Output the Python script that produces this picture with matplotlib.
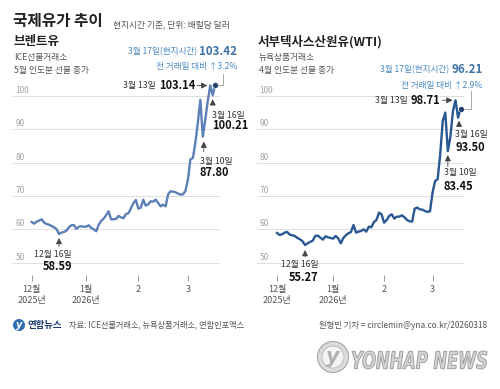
import matplotlib
matplotlib.use('Agg')
import matplotlib.pyplot as plt
import matplotlib.patches as mpatches
from matplotlib.textpath import TextPath
from matplotlib.font_manager import FontProperties
from matplotlib.transforms import Affine2D, offset_copy
import numpy as np
import pandas as pd

plt.rcParams['font.family'] = ['Noto Sans CJK KR', 'DejaVu Sans']

W, H, DPI = 500, 389, 100

# ── 데이터 (거래일 종가, 2025-12-01 ~ 2026-03-17) ──
brent_values = [
    62.2, 61.7, 62.3, 62.6, 63.0, 62.0, 61.6, 61.4, 61.0, 60.6,
    60.1, 58.59, 59.0, 59.2, 59.6, 60.6, 61.2, 61.3, 60.1, 60.8,
    60.9, 60.8, 60.8, 61.2, 60.4, 60.0, 59.4, 61.3, 62.5, 63.2,
    64.2, 65.4, 63.0, 63.0, 63.1, 64.0, 63.6, 63.3, 64.6, 64.8,
    66.3, 67.8, 68.8, 66.2, 66.5, 68.9, 67.1, 67.5, 68.4, 68.3,
    68.9, 67.9, 66.9, 67.4, 66.9, 70.5, 71.4, 71.3, 71.1, 70.7,
    70.4, 70.5, 71.5, 75.0, 81.0, 81.4, 86.0, 92.0, 98.8, 87.80,
    93.0, 98.5, 103.14, 100.21, 103.42,
]
wti_values = [
    58.9, 58.3, 58.5, 59.0, 59.2, 58.4, 58.2, 58.0, 57.4, 57.0,
    56.4, 55.27, 55.8, 56.2, 56.6, 58.0, 58.1, 57.5, 56.9, 57.9,
    57.6, 57.4, 57.2, 58.0, 57.3, 55.8, 57.4, 58.2, 58.8, 59.2,
    61.3, 59.0, 59.3, 59.5, 60.0, 59.3, 60.8, 60.6, 62.2, 62.8,
    65.0, 64.5, 62.0, 62.8, 64.0, 64.5, 63.2, 63.8, 63.8, 64.2,
    63.6, 62.8, 62.4, 62.3, 66.2, 66.5, 66.0, 65.9, 65.5, 65.2,
    65.4, 71.0, 74.5, 75.0, 82.5, 92.5, 95.0, 83.45, 87.8, 95.5,
    98.71, 93.50, 96.21,
]
brent_holidays = ['2025-12-25', '2026-01-01']
wti_holidays = ['2025-12-25', '2026-01-01', '2026-01-19', '2026-02-16']
month_labels = ['12월\n2025년', '1월\n2026년', '2', '3']
y_ticks = [50, 60, 70, 80, 90, 100]
brent_change = '3.2%'
wti_change = '2.9%'

# ── 스타일 ──
C = {
    'brent': '#5b7fb6',
    'wti': '#2a5893',
    'dot': '#24406b',
    'grid': '#dedede',
    'ylab': '#a3a3a3',
    'xlab': '#555555',
    'note': '#333333',
    'val': '#111111',
    'blue': '#4a89c0',
    'blue_val': '#3b72a8',
    'arrow': '#444444',
    'gray': '#555555',
}

fig = plt.figure(figsize=(W / DPI, H / DPI), dpi=DPI)
fig.patch.set_facecolor('white')
renderer = fig.canvas.get_renderer()

# 픽셀 좌표용 오버레이
ov = fig.add_axes([0, 0, 1, 1], zorder=0)
ov.set_xlim(0, W)
ov.set_ylim(H, 0)
ov.axis('off')


def trading_days(holidays):
    d = pd.bdate_range('2025-12-01', '2026-03-17')
    return d[~d.isin(pd.to_datetime(holidays))]


def px_trans(ax, dx, dy):
    return offset_copy(ax.transData, fig=fig, x=dx, y=dy, units='dots')


def arrow(ax, x, y, tip, tail):
    ax.annotate('', xy=(x, y), xycoords=px_trans(ax, *tip),
                xytext=(tail[0] - tip[0], tail[1] - tip[1]),
                textcoords='offset pixels', annotation_clip=False,
                arrowprops=dict(arrowstyle='-|>,head_length=0.35,head_width=0.18',
                                color=C['arrow'], lw=0.6, shrinkA=0, shrinkB=0))


def note(ax, x, y, dx, dy, text, ha, size=6.3, color=C['note'], bold=False):
    return ax.text(x, y, text, transform=px_trans(ax, dx, dy), ha=ha, va='center',
                   fontsize=size, color=color, weight='bold' if bold else 'normal',
                   clip_on=False, zorder=5)


def two_part(ax, x, y, dx, dy, left, right, lsize, rsize, lcolor, rcolor, gap=2):
    t = note(ax, x, y, dx, dy, right, 'right', size=rsize, color=rcolor, bold=True)
    w = t.get_window_extent(renderer).width
    note(ax, x, y, dx - w - gap, dy, left, 'right', size=lsize, color=lcolor)


def panel(left_px, width_px, values, holidays, color, px_per_day, x0_px, cfg):
    dates = trading_days(holidays)
    x = np.arange(len(values))
    ax = fig.add_axes([left_px / W, 1 - 275 / H, width_px / W, 197 / H], zorder=2)
    ax.set_facecolor('none')
    ax.set_xlim((left_px - x0_px) / px_per_day, (left_px + width_px - x0_px) / px_per_day)
    ax.set_ylim(46.29, 105.39)
    for s in ax.spines.values():
        s.set_visible(False)
    ax.set_yticks([])

    # 월 첫 거래일 눈금
    first = [i for i in range(len(dates)) if i == 0 or dates[i].month != dates[i - 1].month]
    ax.set_xticks(first)
    ax.set_xticklabels(month_labels, linespacing=1.35)
    ax.tick_params(axis='x', length=4, width=0.6, color='#8a8a8a', pad=3,
                   labelsize=6.5, labelcolor=C['xlab'])

    ylab_tr = offset_copy(ax.get_yaxis_transform(), fig=fig, x=2.5, y=5.5, units='dots')
    for v in y_ticks:
        ax.axhline(v, color=C['grid'], lw=0.7, zorder=0)
        ax.text(0, v, str(v), transform=ylab_tr, ha='left', va='center',
                fontsize=6, color=C['ylab'])

    ax.plot(x, values, color=color, lw=1.7, solid_joinstyle='round', zorder=3)
    ax.plot(x[-1], values[-1], 'o', ms=4.2, color=C['dot'], mec='white', mew=0.4, zorder=4)

    idx = {d.strftime('%m-%d'): i for i, d in enumerate(dates)}

    # 12월 16일 저점
    i = idx['12-16']
    arrow(ax, i, values[i], cfg['dec'][0], cfg['dec'][1])
    note(ax, i, values[i], cfg['dec'][2], cfg['dec'][3], '12월 16일', 'right')
    note(ax, i, values[i], cfg['dec'][2], cfg['dec'][4], f'{values[i]:.2f}', 'right',
         size=8, color=C['val'], bold=True)

    # 3월 10일, 3월 16일
    for key, label in (('03-10', '3월 10일'), ('03-16', '3월 16일')):
        i = idx[key]
        c = cfg[key]
        arrow(ax, i, values[i], c[0], c[1])
        note(ax, i, values[i], c[2], c[3], label, 'left')
        note(ax, i, values[i], c[2], c[4], f'{values[i]:.2f}', 'left',
             size=8, color=C['val'], bold=True)

    # 3월 13일
    i = idx['03-13']
    arrow(ax, i, values[i], (-3, 0), (-13, 0))
    two_part(ax, i, values[i], -15, 0, '3월 13일', f'{values[i]:.2f}', 6.3, 8,
             C['note'], C['val'], gap=3)

    # 3월 17일 (최신)
    i = len(values) - 1
    lx, ly, t1, t2 = cfg['last']
    p = ax.transData.transform((i, values[i]))
    inv = ax.transData.inverted()
    pts = [inv.transform(p + np.array(o)) for o in [(3, 0), (lx, 0), (lx, ly)]]
    ax.plot([q[0] for q in pts], [q[1] for q in pts], color='#9a9a9a', lw=0.6,
            clip_on=False, zorder=2)
    two_part(ax, i, values[i], 22, t1, '3월 17일(현지시간)', f'{values[i]:.2f}', 6.2, 8.3,
             C['blue'], C['blue_val'], gap=2)
    note(ax, i, values[i], 22, t2, f'전 거래일 대비 ↑{cfg["chg"]}', 'right',
         size=6.2, color=C['blue'])
    return ax


# ── 브렌트유 패널 ──
panel(13, 207, brent_values, brent_holidays, C['brent'], 2.48, 31.7, {
    'dec': ((0, -4), (0, -12.5), 13, -20, -32),
    '03-10': ((1, -5), (1, -15), -3, -25, -36),
    '03-16': ((0, -4), (0, -10), -0.5, -20, -30),
    'last': (8, 11, 33, 18.5),
    'chg': brent_change,
})

# ── WTI 패널 ──
panel(257, 207, wti_values, wti_holidays, C['wti'], 2.55, 277, {
    'dec': ((0, -5), (0, -12), 13, -19.5, -32),
    '03-10': ((0, -4), (0, -15.5), -4, -21.5, -35),
    '03-16': ((1, -3), (1, -9), -3, -16.5, -30),
    'last': (10, 17.5, 39, 23),
    'chg': wti_change,
})

# ── 제목 / 부제 ──
ov.text(13, 21, '국제유가 추이', fontsize=11.3, weight='bold', color='#222222',
        ha='left', va='center')
ov.text(113, 25, '현지시간 기준, 단위: 배럴당 달러', fontsize=6.3, color=C['gray'],
        ha='left', va='center')

ov.text(13, 41, '브렌트유', fontsize=9, weight='bold', color='#222222', ha='left', va='center')
ov.text(14.5, 57, 'ICE선물거래소', fontsize=6.3, color=C['gray'], ha='left', va='center')
ov.text(14.5, 70.5, '5월 인도분 선물 종가', fontsize=6.3, color=C['gray'], ha='left', va='center')

ov.text(258, 41.5, '서부텍사스산원유(WTI)', fontsize=9, weight='bold', color='#222222',
        ha='left', va='center')
ov.text(259, 57, '뉴욕상품거래소', fontsize=6.3, color=C['gray'], ha='left', va='center')
ov.text(259, 70.5, '4월 인도분 선물 종가', fontsize=6.3, color=C['gray'], ha='left', va='center')

# ── 하단 출처 ──
ov.add_patch(mpatches.Circle((19, 325), 6, facecolor='#2f6db5', edgecolor='none'))
ov.text(19.3, 325.5, 'y', fontsize=7, style='italic', weight='bold', color='white',
        ha='center', va='center', family='DejaVu Sans')
ov.text(27, 325, '연합뉴스', fontsize=6.8, weight='bold', color='#1d3c6e', ha='left', va='center')
ov.text(69, 325, '자료: ICE선물거래소, 뉴욕상품거래소, 연합인포맥스', fontsize=5.9,
        color=C['gray'], ha='left', va='center')
ov.text(487, 325, '원형민 기자 = circlemin@yna.co.kr/20260318', fontsize=6.0,
        color=C['gray'], ha='right', va='center')

# ── 워터마크 ──
ov.add_patch(mpatches.Circle((333, 357), 15.5, facecolor='#dcdcdc', edgecolor='#a5a5a5', lw=0.8))
ov.add_patch(mpatches.Circle((333, 357), 11, facecolor='#f4f4f4', edgecolor='#b5b5b5', lw=0.6))
ov.text(333, 357, 'y', fontsize=15, style='italic', weight='bold', color='#b0b0b0',
        ha='center', va='center', family='DejaVu Sans')
fp = FontProperties(family='DejaVu Sans', weight='bold', style='italic')
tp = TextPath((0, 0), 'YONHAP NEWS', size=10, prop=fp)
ext = tp.get_extents()
sx, sy = 135 / ext.width, 18 / ext.height
tr = Affine2D().translate(-ext.x0, -ext.y0).scale(sx, -sy).translate(352, 369) + ov.transData
ov.add_patch(mpatches.PathPatch(tp, transform=tr, facecolor='#d4d4d4', edgecolor='#9f9f9f', lw=0.7))

fig.savefig('out.png', dpi=DPI, facecolor='white')
